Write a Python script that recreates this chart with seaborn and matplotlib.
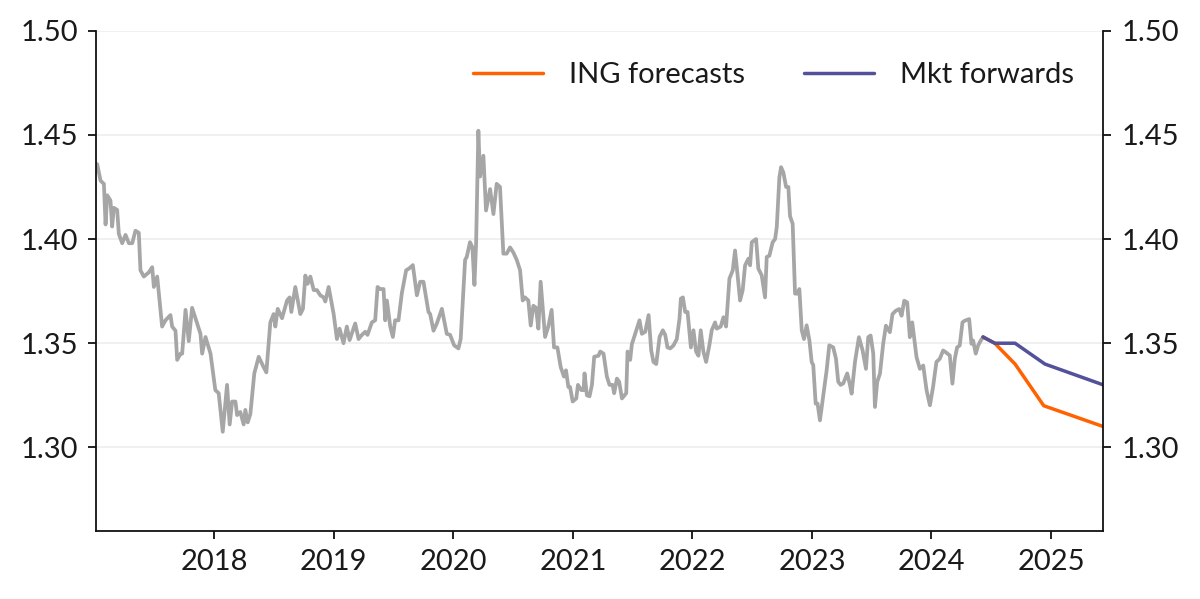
import pandas as pd
import matplotlib
matplotlib.use('Agg')
import matplotlib.pyplot as plt
import matplotlib.dates as mdates
import seaborn as sns

# Spot history (decimal year, rate)
hist_years = [
    2017.019, 2017.047, 2017.075, 2017.089, 2017.103, 2017.130, 2017.144, 2017.158, 2017.186, 2017.200,
    2017.228, 2017.256, 2017.284, 2017.312, 2017.339, 2017.367, 2017.381, 2017.409, 2017.451, 2017.479,
    2017.493, 2017.521, 2017.562, 2017.590, 2017.632, 2017.646, 2017.674, 2017.688, 2017.716, 2017.730,
    2017.758, 2017.785, 2017.813, 2017.855, 2017.883, 2017.897, 2017.925, 2017.967, 2018.008, 2018.036,
    2018.070, 2018.106, 2018.128, 2018.148, 2018.176, 2018.190, 2018.217, 2018.245, 2018.259, 2018.279,
    2018.301, 2018.334, 2018.371, 2018.412, 2018.435, 2018.468, 2018.496, 2018.510, 2018.530, 2018.566,
    2018.608, 2018.630, 2018.644, 2018.677, 2018.719, 2018.741, 2018.761, 2018.780, 2018.803, 2018.831,
    2018.858, 2018.886, 2018.914, 2018.928, 2018.956, 2018.998, 2019.026, 2019.048, 2019.081, 2019.109,
    2019.132, 2019.179, 2019.207, 2019.235, 2019.263, 2019.282, 2019.318, 2019.346, 2019.366, 2019.388,
    2019.416, 2019.430, 2019.444, 2019.472, 2019.494, 2019.513, 2019.541, 2019.569, 2019.605, 2019.633,
    2019.661, 2019.695, 2019.722, 2019.750, 2019.792, 2019.806, 2019.834, 2019.862, 2019.904, 2019.945,
    2019.973, 2020.007, 2020.043, 2020.062, 2020.099, 2020.113, 2020.140, 2020.160, 2020.177, 2020.191,
    2020.210, 2020.224, 2020.252, 2020.274, 2020.308, 2020.336, 2020.363, 2020.391, 2020.419, 2020.447,
    2020.475, 2020.503, 2020.531, 2020.559, 2020.581, 2020.600, 2020.628, 2020.648, 2020.670, 2020.692,
    2020.712, 2020.731, 2020.768, 2020.795, 2020.823, 2020.843, 2020.871, 2020.899, 2020.926, 2020.943,
    2020.963, 2020.977, 2020.999, 2021.027, 2021.041, 2021.069, 2021.088, 2021.096, 2021.116, 2021.138,
    2021.158, 2021.177, 2021.213, 2021.227, 2021.255, 2021.283, 2021.305, 2021.331, 2021.344, 2021.367,
    2021.386, 2021.409, 2021.445, 2021.456, 2021.478, 2021.492, 2021.520, 2021.556, 2021.576, 2021.604,
    2021.632, 2021.654, 2021.673, 2021.696, 2021.724, 2021.751, 2021.771, 2021.790, 2021.813, 2021.841,
    2021.868, 2021.891, 2021.902, 2021.919, 2021.938, 2021.958, 2021.986, 2022.008, 2022.030, 2022.050,
    2022.069, 2022.091, 2022.114, 2022.141, 2022.161, 2022.189, 2022.203, 2022.236, 2022.259, 2022.281,
    2022.309, 2022.337, 2022.356, 2022.376, 2022.398, 2022.420, 2022.440, 2022.468, 2022.482, 2022.496,
    2022.532, 2022.551, 2022.579, 2022.607, 2022.621, 2022.643, 2022.671, 2022.691, 2022.705, 2022.727,
    2022.741, 2022.760, 2022.783, 2022.802, 2022.816, 2022.838, 2022.858, 2022.880, 2022.894, 2022.914,
    2022.933, 2022.955, 2022.978, 2022.997, 2023.011, 2023.031, 2023.047, 2023.067, 2023.095, 2023.123,
    2023.145, 2023.178, 2023.201, 2023.220, 2023.240, 2023.262, 2023.295, 2023.318, 2023.332, 2023.360,
    2023.393, 2023.424, 2023.452, 2023.471, 2023.491, 2023.513, 2023.527, 2023.546, 2023.569, 2023.596,
    2023.619, 2023.652, 2023.674, 2023.702, 2023.730, 2023.750, 2023.772, 2023.797, 2023.819, 2023.839,
    2023.856, 2023.875, 2023.903, 2023.931, 2023.959, 2023.987, 2024.014, 2024.042, 2024.070, 2024.098,
    2024.120, 2024.154, 2024.176, 2024.196, 2024.215, 2024.237, 2024.260, 2024.279, 2024.316, 2024.335,
    2024.349, 2024.371, 2024.391, 2024.413, 2024.432,
]
hist_values = [
    1.436, 1.428, 1.4265, 1.407, 1.421, 1.4185, 1.406, 1.415, 1.414, 1.4025,
    1.398, 1.402, 1.398, 1.398, 1.404, 1.403, 1.385, 1.382, 1.384, 1.3865,
    1.377, 1.382, 1.358, 1.361, 1.3635, 1.358, 1.356, 1.342, 1.345, 1.345,
    1.366, 1.351, 1.367, 1.3595, 1.3545, 1.345, 1.353, 1.345, 1.3275, 1.326,
    1.3075, 1.330, 1.311, 1.322, 1.322, 1.3155, 1.317, 1.311, 1.318, 1.312,
    1.316, 1.3355, 1.3435, 1.3385, 1.336, 1.360, 1.364, 1.358, 1.3665, 1.362,
    1.3705, 1.372, 1.365, 1.377, 1.364, 1.3665, 1.3825, 1.3785, 1.382, 1.3755,
    1.3755, 1.373, 1.372, 1.370, 1.377, 1.364, 1.352, 1.357, 1.350, 1.358,
    1.3515, 1.3595, 1.352, 1.354, 1.3555, 1.354, 1.360, 1.361, 1.377, 1.376,
    1.376, 1.361, 1.3705, 1.358, 1.353, 1.361, 1.361, 1.374, 1.385, 1.386,
    1.3875, 1.373, 1.3795, 1.3795, 1.365, 1.364, 1.356, 1.3595, 1.3665, 1.3545,
    1.354, 1.349, 1.3475, 1.352, 1.390, 1.3915, 1.3985, 1.396, 1.378, 1.398,
    1.452, 1.430, 1.440, 1.4137, 1.424, 1.412, 1.4265, 1.425, 1.393, 1.393,
    1.396, 1.3935, 1.390, 1.385, 1.3705, 1.372, 1.3705, 1.3585, 1.368, 1.367,
    1.357, 1.3795, 1.353, 1.358, 1.366, 1.348, 1.348, 1.3385, 1.334, 1.337,
    1.329, 1.329, 1.322, 1.3235, 1.330, 1.3275, 1.3275, 1.3355, 1.325, 1.3245,
    1.330, 1.3435, 1.344, 1.346, 1.345, 1.334, 1.330, 1.330, 1.326, 1.333,
    1.3315, 1.3235, 1.326, 1.346, 1.342, 1.3495, 1.3545, 1.361, 1.3545, 1.3555,
    1.3635, 1.3465, 1.341, 1.340, 1.353, 1.3562, 1.354, 1.348, 1.3475, 1.349,
    1.352, 1.362, 1.3714, 1.372, 1.365, 1.365, 1.348, 1.3562, 1.346, 1.344,
    1.3562, 1.346, 1.341, 1.349, 1.3562, 1.360, 1.357, 1.358, 1.3625, 1.358,
    1.381, 1.385, 1.3945, 1.3834, 1.3705, 1.3755, 1.3874, 1.3906, 1.3874, 1.3985,
    1.400, 1.3858, 1.3826, 1.372, 1.3914, 1.392, 1.3985, 1.400, 1.4057, 1.4297,
    1.4345, 1.432, 1.425, 1.425, 1.411, 1.4073, 1.3738, 1.3738, 1.376, 1.3562,
    1.352, 1.3586, 1.3514, 1.341, 1.3395, 1.321, 1.321, 1.313, 1.325, 1.337,
    1.349, 1.348, 1.3426, 1.3315, 1.330, 1.3307, 1.3355, 1.330, 1.3258, 1.341,
    1.3529, 1.3465, 1.3377, 1.3529, 1.3537, 1.345, 1.3194, 1.3314, 1.3354, 1.3497,
    1.3584, 1.3553, 1.364, 1.3656, 1.3664, 1.3632, 1.3704, 1.3696, 1.3529, 1.360,
    1.352, 1.3433, 1.3377, 1.3393, 1.3274, 1.3202, 1.329, 1.341, 1.3425, 1.3465,
    1.3457, 1.3441, 1.3306, 1.3425, 1.348, 1.3489, 1.360, 1.3608, 1.3616, 1.3497,
    1.3513, 1.345, 1.3489, 1.3513, 1.3529,
]

# Forecast paths
ing_years = [2024.432, 2024.530, 2024.700, 2024.940, 2025.436]
ing_values = [1.353, 1.350, 1.340, 1.320, 1.310]
fwd_years = [2024.432, 2024.530, 2024.700, 2024.950, 2025.436]
fwd_values = [1.353, 1.350, 1.350, 1.340, 1.330]


def to_date(y):
    yr = int(y)
    return pd.Timestamp(yr, 1, 1) + pd.Timedelta(days=(y - yr) * 365.25)


hist = pd.DataFrame({'date': [to_date(y) for y in hist_years], 'rate': hist_values})
ing = pd.DataFrame({'date': [to_date(y) for y in ing_years], 'rate': ing_values})
fwd = pd.DataFrame({'date': [to_date(y) for y in fwd_years], 'rate': fwd_values})

sns.set_style('white')
plt.rcParams['font.family'] = ['Lato', 'DejaVu Sans']

fig, ax = plt.subplots(figsize=(12, 5.99), dpi=100)
fig.subplots_adjust(left=0.0804, right=0.9194, top=0.9487, bottom=0.114)

sns.lineplot(data=hist, x='date', y='rate', ax=ax, color='#a6a6a6', linewidth=2.7)
sns.lineplot(data=ing, x='date', y='rate', ax=ax, color='#ff6200', linewidth=2.5, label='ING forecasts')
sns.lineplot(data=fwd, x='date', y='rate', ax=ax, color='#525199', linewidth=2.5, label='Mkt forwards')

ax.set_xlim(to_date(2017.013), to_date(2025.436))
ax.set_ylim(1.26, 1.50)
ax.set_yticks([1.30, 1.35, 1.40, 1.45, 1.50])
ax.yaxis.set_major_formatter(matplotlib.ticker.FormatStrFormatter('%.2f'))
ax.xaxis.set_major_locator(mdates.YearLocator())
ax.xaxis.set_major_formatter(mdates.DateFormatter('%Y'))
ax.set_xlabel('')
ax.set_ylabel('')

ax.grid(axis='y', color='#eeeeee', linewidth=1.2)
ax.set_axisbelow(True)

for side in ['left', 'right', 'bottom']:
    ax.spines[side].set_visible(True)
    ax.spines[side].set_color('#111111')
    ax.spines[side].set_linewidth(1.3)
ax.spines['top'].set_visible(False)

ax.tick_params(axis='both', which='major', direction='out', length=6, width=1.3,
               color='#111111', labelsize=21, labelcolor='#1a1a1a', pad=7)
ax.tick_params(axis='y', left=True, right=True, labelleft=True, labelright=True)
ax.tick_params(axis='x', bottom=True)

ax.legend(loc='upper right', bbox_to_anchor=(0.997, 0.99), ncol=2, frameon=False,
          fontsize=21, handlelength=2.4, handletextpad=0.9, columnspacing=2.0,
          labelcolor='#1a1a1a')

plt.savefig('out.png', dpi=100)
